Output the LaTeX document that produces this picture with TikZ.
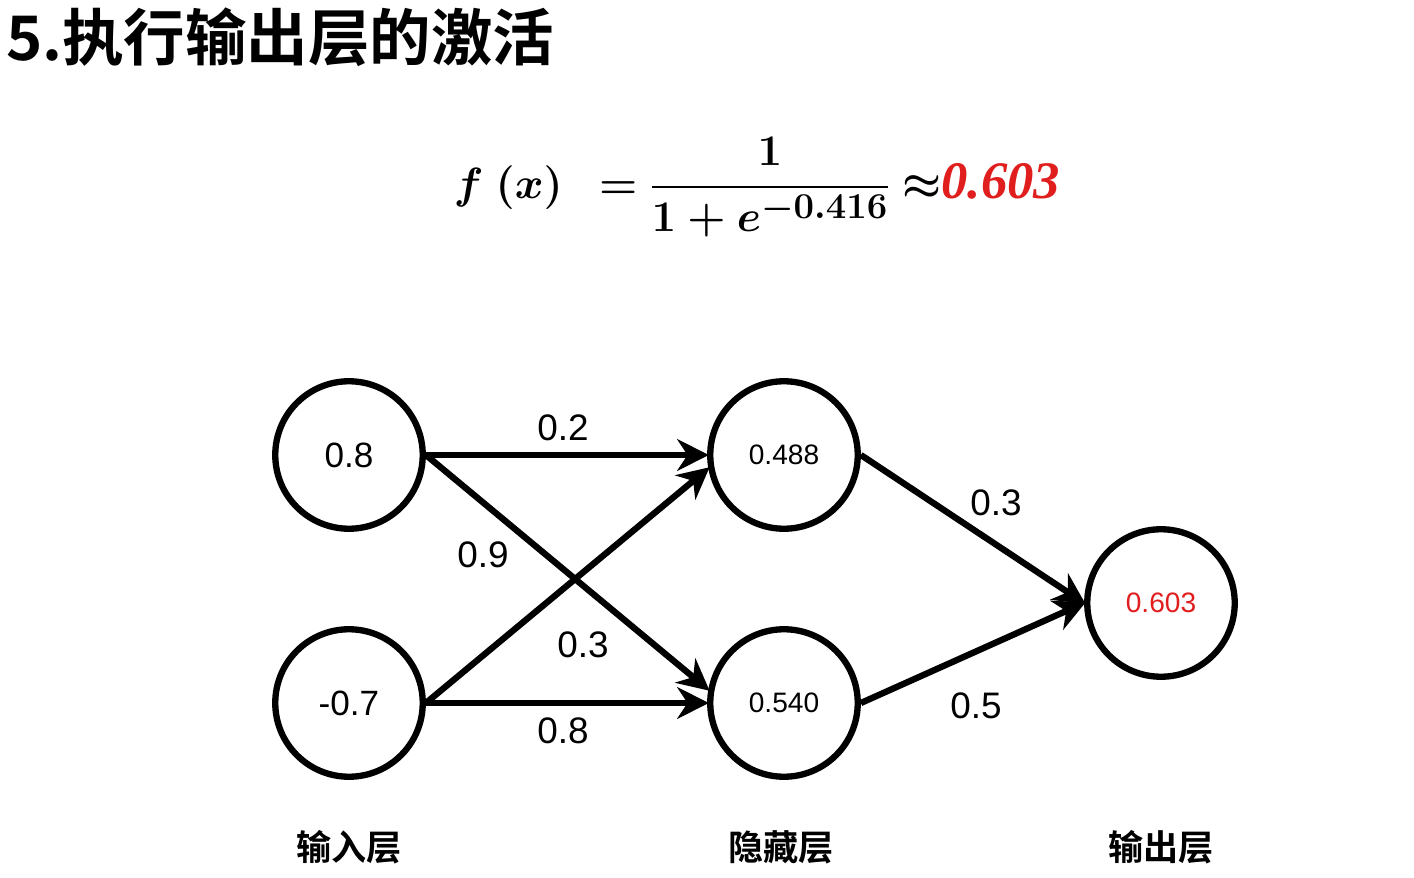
\documentclass[tikz,border=0pt]{standalone}
\usepackage{fontspec}
\usepackage{amsmath,bm}
\setmainfont{Liberation Sans}
\newfontfamily\cjk{Noto Sans CJK SC}[BoldFont={Noto Sans CJK SC Bold}]
\newfontfamily\serifbi{Liberation Serif}
\usetikzlibrary{positioning,arrows.meta}
\definecolor{outred}{RGB}{225,30,30}
\tikzset{
  neuron/.style={circle,draw,line width=3.6pt,minimum size=2.95cm,inner sep=0pt,font=\fontsize{20}{24}\selectfont},
  weight/.style={line width=3.6pt,-{Stealth[length=18pt,width=18pt]},shorten >=-1pt},
  wlabel/.style={font=\fontsize{21}{24}\selectfont},
  layer/.style={font=\cjk\bfseries\fontsize{20}{24}\selectfont}
}
\begin{document}
\begin{tikzpicture}[x=0.02cm,y=-0.02cm]
	\useasboundingbox[fill=white] (0,0) rectangle (1414,878);
	\node[anchor=west,font=\cjk\bfseries\fontsize{35}{40}\selectfont] (title) at (0,37) {5.执行输出层的激活};
	\node (formula) at (757,187) {\fontsize{30}{34}\selectfont$\bm{f\;(x)\;\;=\dfrac{1}{1+e^{-0.416}}\approx}$\textcolor{outred}{\serifbi\bfseries\itshape 0.603}};

	\node[neuron] (in1) at (349,455) {0.8};
	\node[neuron] (in2) at (349,703) {-0.7};
	\node[neuron,font=\fontsize{16}{20}\selectfont] (h1) at (784,455) {0.488};
	\node[neuron,font=\fontsize{16}{20}\selectfont] (h2) at (784,703) {0.540};
	\node[neuron,font=\fontsize{16}{20}\selectfont,text=outred] (out) at (1161,603) {0.603};

	\draw[weight] (in1.east) -- (h1.west);
	\draw[weight] (in1.east) -- (h2.170);
	\draw[weight] (in2.east) -- (h1.190);
	\draw[weight] (in2.east) -- (h2.west);
	\draw[weight] (h1.east) -- (out.west);
	\draw[weight] (h2.east) -- (out.west);

	\node[wlabel] (w11) at (563,428) {0.2};
	\node[wlabel] (w12) at (483,555) {0.9};
	\node[wlabel] (w21) at (583,645) {0.3};
	\node[wlabel] (w22) at (563,731) {0.8};
	\node[wlabel] (v1) at (996,503) {0.3};
	\node[wlabel] (v2) at (976,706) {0.5};

	\node[layer] (linput) at (349,847) {输入层};
	\node[layer] (lhidden) at (781,847) {隐藏层};
	\node[layer] (loutput) at (1161,847) {输出层};
\end{tikzpicture}
\end{document}
